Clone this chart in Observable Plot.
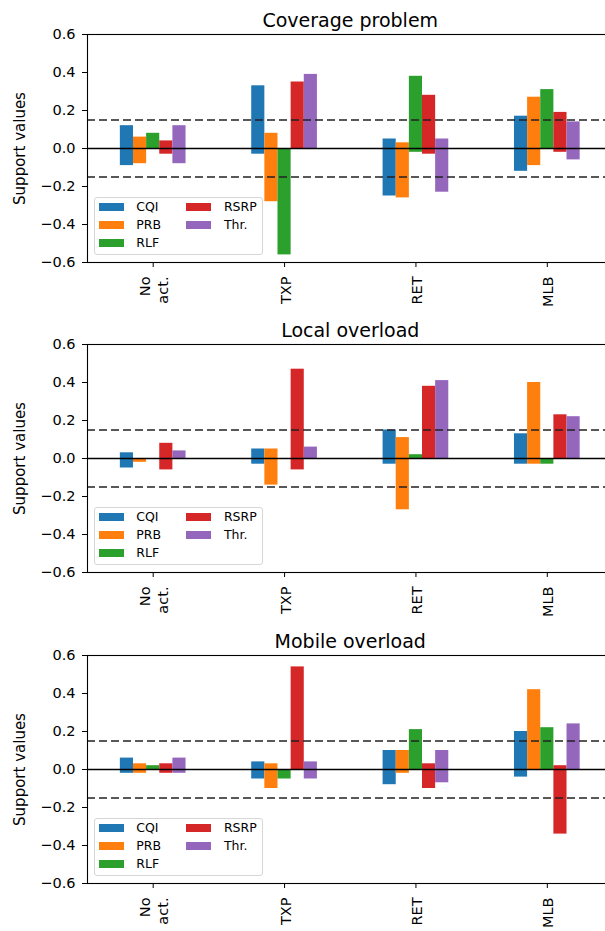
<!DOCTYPE html>
<html><head><meta charset="utf-8">
<script src="https://cdn.jsdelivr.net/npm/d3@7"></script>
<script src="https://cdn.jsdelivr.net/npm/@observablehq/plot@0.6"></script>
<style>
html,body{margin:0;padding:0;background:#fff;overflow:hidden;}
body{width:605px;font-family:"DejaVu Sans",sans-serif;}
.panel{position:relative;width:605px;}
.panel svg{overflow:hidden;display:block;}
.legend{position:absolute;box-sizing:border-box;border:1px solid #d6d6d6;border-radius:3px;background:rgba(255,255,255,0.8);font-family:"DejaVu Sans",sans-serif;font-size:12.5px;color:#000;}
.legend .item{position:absolute;height:18px;display:flex;align-items:center;}
.legend .sw{position:absolute;width:25px;height:8px;}
.legend .lb{position:absolute;white-space:nowrap;line-height:18px;}
</style></head><body><div id="chart"></div><script>
const categories = ["No\nact.", "TXP", "RET", "MLB"];
const seriesNames = ["CQI", "PRB", "RLF", "RSRP", "Thr."];
const seriesColors = ["#1f77b4", "#ff7f0e", "#2ca02c", "#d62728", "#9467bd"];
const panelTitles = ["Coverage problem", "Local overload", "Mobile overload"];
const yLabel = "Support values";
const yTicks = [-0.6, -0.4, -0.2, 0, 0.2, 0.4, 0.6];
const thresholds = [-0.15, 0.15];

// rows = categories, columns = series (CQI, PRB, RLF, RSRP, Thr.)
const coverageLow  = [[-0.09,-0.08, 0.00,-0.03,-0.08],[-0.03,-0.28,-0.56, 0.00, 0.00],[-0.25,-0.26,-0.02,-0.03,-0.23],[-0.12,-0.09, 0.00,-0.02,-0.06]];
const coverageHigh = [[ 0.12, 0.06, 0.08, 0.04, 0.12],[ 0.33, 0.08, 0.00, 0.35, 0.39],[ 0.05, 0.03, 0.38, 0.28, 0.05],[ 0.17, 0.27, 0.31, 0.19, 0.14]];
const localLow     = [[-0.05,-0.02, 0.00,-0.06, 0.00],[-0.03,-0.14, 0.00,-0.06, 0.00],[-0.03,-0.27, 0.00, 0.00, 0.00],[-0.03,-0.03,-0.03, 0.00, 0.00]];
const localHigh    = [[ 0.03, 0.00, 0.00, 0.08, 0.04],[ 0.05, 0.05, 0.00, 0.47, 0.06],[ 0.15, 0.11, 0.02, 0.38, 0.41],[ 0.13, 0.40, 0.00, 0.23, 0.22]];
const mobileLow    = [[-0.02,-0.02, 0.00,-0.02,-0.02],[-0.05,-0.10,-0.05, 0.00,-0.05],[-0.08,-0.02, 0.00,-0.10,-0.07],[-0.04, 0.00, 0.00,-0.34, 0.00]];
const mobileHigh   = [[ 0.06, 0.03, 0.02, 0.03, 0.06],[ 0.04, 0.03, 0.00, 0.54, 0.04],[ 0.10, 0.10, 0.21, 0.03, 0.10],[ 0.20, 0.42, 0.22, 0.02, 0.24]];

const panelLows = [coverageLow, localLow, mobileLow];
const panelHighs = [coverageHigh, localHigh, mobileHigh];

// layout
const W = 605, ML = 87, MR = -7.5, MT = 34, FH = 228;
const panelHeights = [310, 311, 310];
const inner = d3.scaleBand().domain(seriesNames).range([-0.25, 0.25]);
const font = "DejaVu Sans";

function makePanel(p) {
  const H = panelHeights[p];
  const rows = [];
  categories.forEach((c, i) => seriesNames.forEach((s, j) =>
    rows.push({ci: i, series: s, lo: panelLows[p][i][j], hi: panelHighs[p][i][j]})));
  const plot = Plot.plot({
    width: W, height: H, marginLeft: ML, marginRight: MR, marginTop: MT, marginBottom: H - MT - FH,
    style: {fontFamily: font, fontSize: "14.5px", color: "#000", background: "#fff", overflow: "hidden"},
    x: {domain: [-0.5, categories.length - 0.5], axis: null},
    y: {domain: [-0.6, 0.6], axis: null},
    color: {domain: seriesNames, range: seriesColors},
    marks: [
      Plot.rect(rows, {
        x1: d => d.ci + inner(d.series),
        x2: d => d.ci + inner(d.series) + inner.bandwidth(),
        y1: "lo", y2: "hi", fill: "series"
      }),
      Plot.ruleY([0], {stroke: "#000", strokeWidth: 1.4}),
      Plot.ruleY(thresholds, {stroke: "#222", strokeWidth: 1.5, strokeDasharray: "8,4"}),
      Plot.frame({stroke: "#000", strokeWidth: 1.1}),
      Plot.axisY(yTicks, {tickSize: 5, tickPadding: 7, tickFormat: d3.format(".1f"), fontSize: 14.5, label: null}),
      Plot.axisX(d3.range(categories.length), {
        tickSize: 5, tickPadding: 9, tickRotate: -90, lineAnchor: "middle", lineHeight: 1.28,
        tickFormat: i => categories[i], fontSize: 14.5, label: null
      }),
      Plot.text([panelTitles[p]], {text: d => d, frameAnchor: "top", dy: -8, lineAnchor: "bottom", fontSize: 19}),
      Plot.text([yLabel], {text: d => d, frameAnchor: "left", rotate: -90, dx: -63, textAnchor: "middle", lineAnchor: "bottom", fontSize: 15})
    ]
  });
  const wrap = document.createElement("div");
  wrap.className = "panel";
  wrap.style.height = H + "px";
  wrap.appendChild(plot);

  // legend (lower left, two columns, column-major)
  const color = plot.scale("color");
  const LW = 169, LH = 58.3, rowStep = 18.3, colStep = 87.6, perCol = 3;
  const lg = document.createElement("div");
  lg.className = "legend";
  lg.style.left = "94.3px";
  lg.style.top = (MT + FH - 7 - LH) + "px";
  lg.style.width = LW + "px";
  lg.style.height = LH + "px";
  color.domain.forEach((name, k) => {
    const col = Math.floor(k / perCol), row = k % perCol;
    const cy = 10 + row * rowStep;
    const sw = document.createElement("div");
    sw.className = "sw";
    sw.style.background = color.range[k];
    sw.style.left = (3.4 + col * colStep) + "px";
    sw.style.top = (cy - 4 - 1) + "px";
    const lb = document.createElement("div");
    lb.className = "lb";
    lb.textContent = name;
    lb.style.left = (41 + col * colStep) + "px";
    lb.style.top = (cy - 9 - 1) + "px";
    lg.appendChild(sw);
    lg.appendChild(lb);
  });
  wrap.appendChild(lg);
  return wrap;
}

const chart = document.getElementById("chart");
panelTitles.forEach((t, p) => chart.appendChild(makePanel(p)));
</script></body></html>
